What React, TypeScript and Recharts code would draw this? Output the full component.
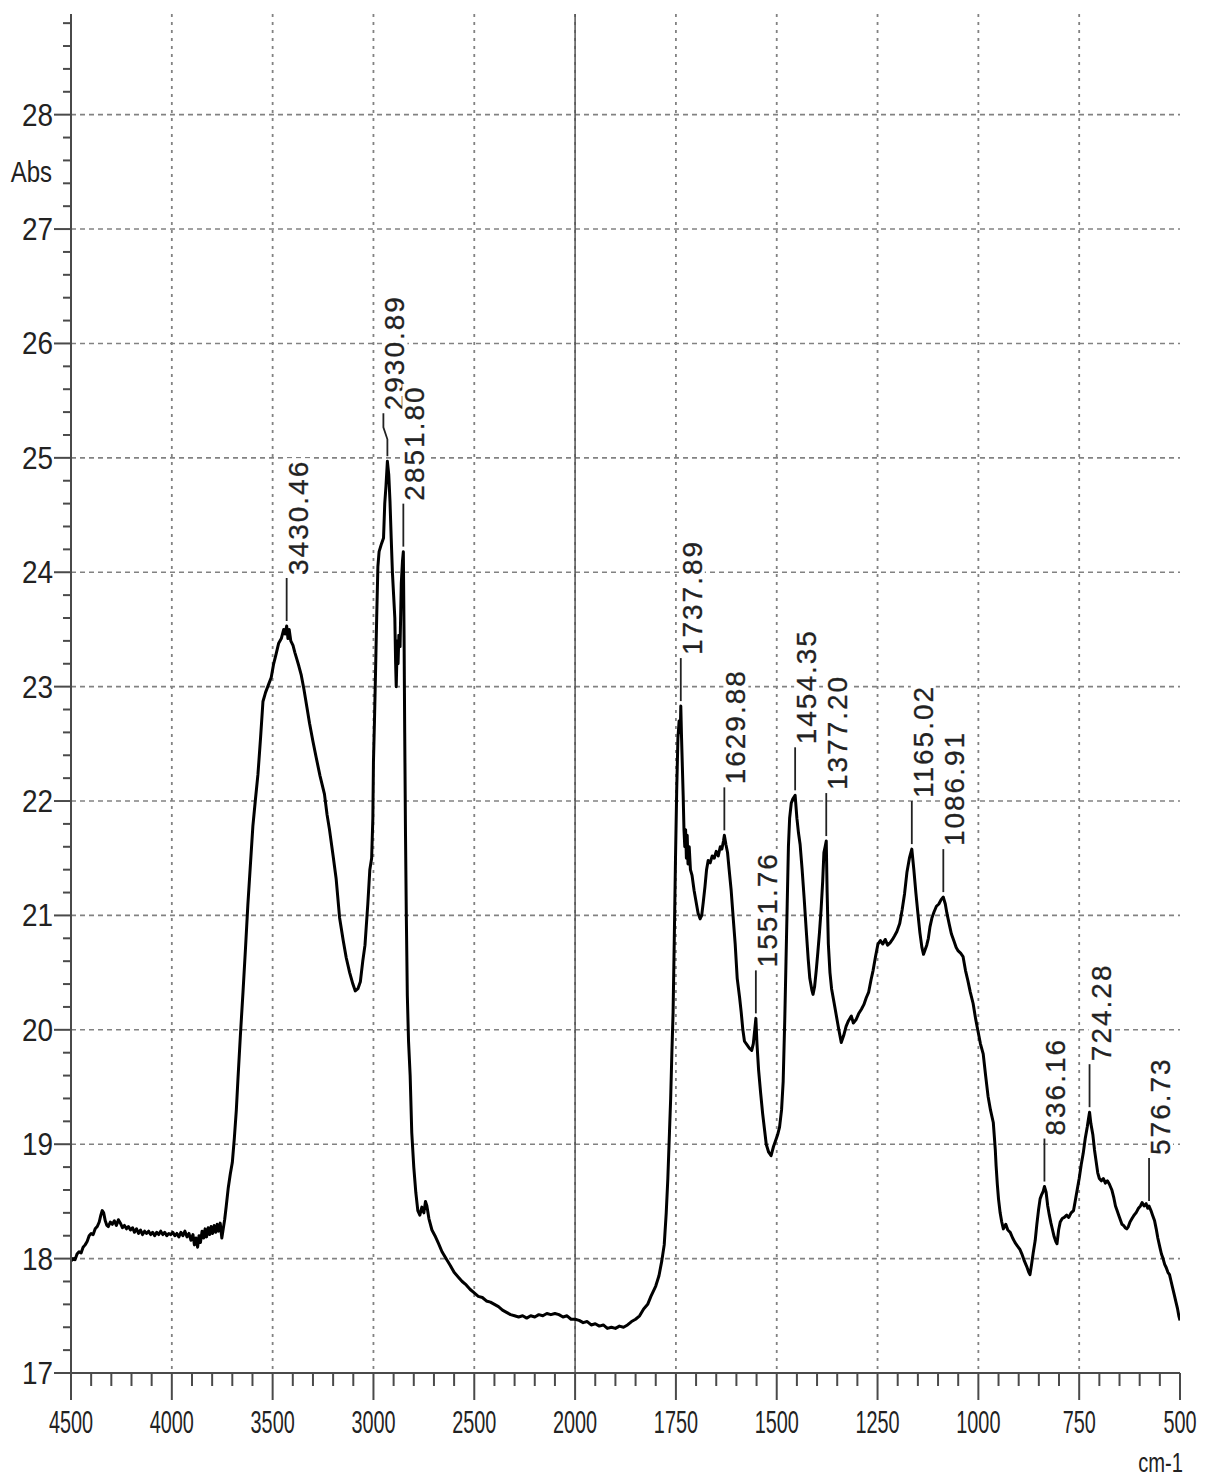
import React from 'react';
import { LineChart, Line, XAxis, YAxis, CartesianGrid, ReferenceLine, LabelList } from 'recharts';

const FONT = '"Liberation Sans", Arial, Helvetica, sans-serif';
const INK = '#222';
const FRAME = '#4a4a4a';
const GRID = '#828282';

// spectrum, [wavenumber cm-1, absorbance]
const baselineHigh: [number, number][] = [
  [4500, 17.98], [4490, 18.0], [4480, 17.99], [4470, 18.04], [4460, 18.06], [4450, 18.05],
  [4440, 18.1], [4430, 18.12], [4420, 18.15], [4410, 18.2], [4400, 18.22], [4390, 18.21],
  [4380, 18.26], [4370, 18.28], [4360, 18.32], [4352, 18.38], [4345, 18.42], [4338, 18.4],
  [4330, 18.33], [4322, 18.29], [4315, 18.28], [4305, 18.32], [4295, 18.3], [4285, 18.33],
  [4275, 18.29], [4265, 18.34], [4255, 18.31], [4245, 18.27], [4235, 18.29], [4225, 18.26],
  [4215, 18.28], [4205, 18.25], [4195, 18.27], [4185, 18.23], [4175, 18.26], [4165, 18.22],
  [4155, 18.25], [4145, 18.21], [4135, 18.24], [4125, 18.22], [4115, 18.24], [4105, 18.21],
  [4095, 18.23], [4085, 18.2], [4075, 18.23], [4065, 18.21], [4055, 18.24], [4045, 18.21],
  [4035, 18.23], [4025, 18.2], [4015, 18.22], [4005, 18.21], [3995, 18.23], [3985, 18.2],
  [3975, 18.22], [3965, 18.19], [3955, 18.23], [3945, 18.2], [3935, 18.24], [3925, 18.19],
  [3915, 18.22], [3905, 18.16], [3895, 18.21], [3888, 18.12], [3880, 18.18], [3872, 18.1],
  [3865, 18.2], [3858, 18.14], [3850, 18.24], [3842, 18.18], [3835, 18.26], [3828, 18.19],
  [3820, 18.27], [3812, 18.21], [3805, 18.28], [3798, 18.22], [3790, 18.29], [3782, 18.23],
  [3775, 18.3], [3768, 18.24], [3760, 18.31], [3752, 18.18], [3745, 18.26], [3738, 18.34],
];

const ohBand: [number, number][] = [
  [3730, 18.46], [3720, 18.62], [3710, 18.74], [3700, 18.84], [3690, 19.05], [3680, 19.3],
  [3672, 19.57], [3660, 19.95], [3647, 20.33], [3635, 20.7], [3623, 21.09], [3610, 21.45],
  [3598, 21.78], [3585, 22.02], [3573, 22.23], [3560, 22.55], [3548, 22.87], [3535, 22.95],
  [3520, 23.02], [3507, 23.08], [3495, 23.2], [3482, 23.29], [3470, 23.38], [3457, 23.42],
  [3445, 23.5], [3438, 23.46], [3430.46, 23.53], [3424, 23.42], [3418, 23.5], [3410, 23.4],
  [3399, 23.36], [3390, 23.3], [3380, 23.24], [3370, 23.18], [3358, 23.1], [3345, 22.98],
  [3330, 22.82], [3317, 22.68], [3300, 22.52], [3284, 22.38], [3265, 22.22], [3243, 22.06],
  [3230, 21.88], [3218, 21.75], [3200, 21.52], [3185, 21.32], [3175, 21.12], [3168, 20.98],
  [3150, 20.78], [3135, 20.63], [3118, 20.5], [3102, 20.4], [3090, 20.34], [3077, 20.36],
  [3065, 20.42], [3053, 20.6], [3042, 20.74],
];

const chStretch: [number, number][] = [
  [3028, 21.1], [3018, 21.4], [3009, 21.5], [3003, 21.85], [3000, 22.34], [2995, 22.7],
  [2990, 23.1], [2984, 23.6], [2978, 24.05], [2972, 24.18], [2960, 24.25], [2950, 24.3],
  [2944, 24.6], [2938, 24.75], [2930.89, 24.97], [2924, 24.85], [2918, 24.62], [2912, 24.3],
  [2906, 24.0], [2900, 23.8], [2894, 23.6], [2890, 23.2], [2887, 23.0], [2882, 23.4],
  [2878, 23.2], [2874, 23.45], [2868, 23.35], [2862, 23.9], [2856, 24.1], [2851.8, 24.18],
  [2848, 23.4], [2845, 22.6], [2841, 21.7], [2837, 21.0], [2832, 20.3], [2826, 19.9],
  [2818, 19.6], [2810, 19.1], [2800, 18.8], [2790, 18.58], [2780, 18.42], [2770, 18.38],
  [2760, 18.45], [2750, 18.4], [2742, 18.5], [2735, 18.46], [2725, 18.35], [2710, 18.25],
];

const valley: [number, number][] = [
  [2695, 18.2], [2677, 18.13], [2660, 18.06], [2640, 18.0], [2619, 17.94], [2600, 17.88],
  [2580, 17.84], [2560, 17.8], [2540, 17.77], [2520, 17.73], [2500, 17.7], [2480, 17.67],
  [2460, 17.66], [2440, 17.63], [2420, 17.62], [2400, 17.6], [2380, 17.58], [2360, 17.55],
  [2340, 17.53], [2320, 17.51], [2300, 17.5], [2280, 17.49], [2260, 17.5], [2240, 17.48],
  [2220, 17.5], [2200, 17.49], [2180, 17.51], [2160, 17.5], [2140, 17.52], [2120, 17.51],
  [2100, 17.52], [2080, 17.51], [2060, 17.49], [2040, 17.5], [2020, 17.47], [2000, 17.47],
  [1990, 17.46], [1980, 17.44], [1970, 17.45], [1960, 17.42], [1950, 17.43], [1940, 17.41],
  [1930, 17.42], [1920, 17.39], [1910, 17.4], [1900, 17.39], [1890, 17.41], [1880, 17.4],
  [1870, 17.42], [1860, 17.45], [1850, 17.47], [1840, 17.5], [1830, 17.56], [1820, 17.6],
  [1812, 17.67], [1800, 17.76], [1792, 17.85], [1785, 17.98],
];

const carbonylRegion: [number, number][] = [
  [1779, 18.12], [1774, 18.4], [1770, 18.7], [1766, 19.1], [1763, 19.4], [1760, 19.8],
  [1757, 20.15], [1754, 20.8], [1751, 21.5], [1748, 22.1], [1745, 22.55], [1742, 22.7],
  [1739, 22.6], [1737.89, 22.83], [1736, 22.55], [1734, 22.3], [1732, 22.05], [1730, 21.75],
  [1728, 21.6], [1726, 21.75], [1724, 21.5], [1722, 21.7], [1720, 21.45], [1717, 21.6],
  [1714, 21.4], [1710, 21.35], [1705, 21.22], [1700, 21.12], [1695, 21.02], [1690, 20.97],
  [1686, 21.0], [1682, 21.12], [1678, 21.25], [1674, 21.4], [1670, 21.48], [1665, 21.46],
  [1660, 21.52], [1655, 21.5], [1650, 21.56], [1645, 21.52], [1640, 21.6], [1636, 21.58],
  [1632, 21.65], [1629.88, 21.7], [1626, 21.62], [1622, 21.55], [1618, 21.4], [1613, 21.22],
  [1608, 20.98], [1603, 20.75], [1598, 20.45], [1592, 20.28], [1588, 20.15], [1584, 20.0],
  [1580, 19.9], [1574, 19.87], [1568, 19.84], [1562, 19.82], [1558, 19.88], [1554, 20.02],
  [1551.76, 20.1], [1549, 19.88], [1545, 19.65], [1540, 19.45], [1535, 19.27], [1530, 19.12],
  [1526, 19.0], [1520, 18.93], [1514, 18.9], [1508, 18.98], [1504, 19.02], [1498, 19.08],
  [1493, 19.15], [1488, 19.3], [1484, 19.55], [1480, 20.1], [1477, 20.6], [1474, 21.1],
  [1471, 21.6], [1468, 21.85], [1464, 21.98], [1460, 22.02], [1454.35, 22.05], [1450, 21.85],
  [1446, 21.72], [1442, 21.62], [1437, 21.4], [1432, 21.15], [1427, 20.88], [1422, 20.62],
  [1418, 20.45], [1413, 20.35], [1410, 20.31], [1406, 20.38], [1402, 20.52], [1398, 20.68],
  [1394, 20.85], [1390, 21.05], [1386, 21.3], [1383, 21.55], [1380, 21.6], [1377.2, 21.65],
  [1375, 21.2], [1372, 20.75], [1368, 20.5], [1364, 20.36], [1358, 20.24], [1353, 20.14],
  [1346, 20.0], [1340, 19.89], [1334, 19.95], [1328, 20.03], [1322, 20.08], [1315, 20.12],
  [1310, 20.06], [1303, 20.09], [1297, 20.14], [1290, 20.18], [1284, 20.22], [1278, 20.28],
  [1272, 20.33], [1266, 20.44], [1261, 20.52], [1255, 20.64], [1249, 20.75], [1243, 20.78],
  [1237, 20.75], [1231, 20.79], [1225, 20.74], [1219, 20.76], [1213, 20.79], [1208, 20.82],
  [1202, 20.86], [1195, 20.93], [1189, 21.05], [1183, 21.19], [1177, 21.38], [1171, 21.5],
  [1165.02, 21.58], [1160, 21.4], [1155, 21.2], [1150, 21.02], [1145, 20.85], [1140, 20.72],
  [1136, 20.66], [1132, 20.7], [1128, 20.74], [1124, 20.8], [1120, 20.9], [1115, 20.98],
  [1110, 21.03], [1104, 21.08], [1098, 21.1], [1092, 21.14], [1086.91, 21.16], [1082, 21.1],
  [1078, 21.02], [1072, 20.92], [1067, 20.84], [1061, 20.78], [1055, 20.72], [1050, 20.69],
  [1044, 20.67], [1038, 20.64], [1032, 20.52], [1026, 20.43], [1020, 20.33], [1013, 20.23],
  [1007, 20.1], [1001, 19.99],
];

const fingerprint: [number, number][] = [
  [995, 19.88], [988, 19.79], [982, 19.6], [976, 19.42], [970, 19.3], [963, 19.19],
  [958, 18.95], [956, 18.81], [953, 18.65], [950, 18.52], [946, 18.4], [942, 18.32],
  [938, 18.26], [932, 18.3], [927, 18.25], [921, 18.23], [915, 18.18], [909, 18.14],
  [903, 18.11], [897, 18.08], [892, 18.04], [886, 17.98], [880, 17.93], [875, 17.88],
  [872, 17.86], [868, 17.95], [864, 18.05], [859, 18.16], [855, 18.3], [851, 18.42],
  [847, 18.52], [843, 18.56], [839, 18.59], [836.16, 18.63], [832, 18.58], [828, 18.46],
  [824, 18.38], [820, 18.31], [816, 18.25], [812, 18.19], [808, 18.15], [805, 18.13],
  [801, 18.25], [797, 18.32], [792, 18.35], [787, 18.36], [781, 18.38], [776, 18.36],
  [770, 18.4], [764, 18.42], [760, 18.5], [756, 18.58], [750, 18.7], [745, 18.82],
  [740, 18.92], [735, 19.05], [730, 19.15], [727, 19.22], [724.28, 19.28], [721, 19.18],
  [716, 19.08], [712, 18.95], [708, 18.85], [704, 18.75], [700, 18.7], [695, 18.68],
  [690, 18.7], [685, 18.66], [680, 18.68], [675, 18.65], [669, 18.6], [664, 18.53],
  [660, 18.46], [656, 18.42], [652, 18.38], [648, 18.34], [644, 18.3], [640, 18.29],
  [636, 18.27], [632, 18.26], [628, 18.28], [624, 18.32], [619, 18.35], [614, 18.38],
  [609, 18.4], [603, 18.44], [598, 18.46], [594, 18.49], [589, 18.46], [584, 18.48],
  [580, 18.44], [576.73, 18.46], [572, 18.42], [568, 18.38], [563, 18.33], [559, 18.26],
  [555, 18.18], [550, 18.1], [546, 18.04], [542, 18.0], [538, 17.95], [534, 17.92],
  [530, 17.88], [526, 17.86], [522, 17.8], [518, 17.74], [514, 17.68], [510, 17.62],
  [506, 17.56], [503, 17.5], [500, 17.46],
];

const peakWavenumbers = [
  3430.46, 2930.89, 2851.8, 1737.89, 1629.88, 1551.76, 1454.35, 1377.2, 1165.02, 1086.91,
  836.16, 724.28, 576.73,
];

const xTickLabels = [4500, 4000, 3500, 3000, 2500, 2000, 1750, 1500, 1250, 1000, 750, 500];
const yTickLabels = [17, 18, 19, 20, 21, 22, 23, 24, 25, 26, 27, 28];

// x axis is split: 4500-2000 at half the scale of 2000-500
const toAxis = (wn: number) => (wn >= 2000 ? 4500 - wn : 2500 + (2000 - wn) * 2);
const fromAxis = (u: number) => (u <= 2500 ? 4500 - u : 2000 - (u - 2500) / 2);

// little leader kinks where labels would collide
const leaderJog: Record<string, number> = { '2930.89': -4 };

const spectrum = [...baselineHigh, ...ohBand, ...chStretch, ...valley, ...carbonylRegion, ...fingerprint];
const data = spectrum.map(([wn, abs]) => ({
  u: toAxis(wn),
  abs,
  tag: peakWavenumbers.includes(wn) ? wn.toFixed(2) : undefined,
}));

const xMajor = xTickLabels.map(toAxis);
const xTicks: number[] = [];
for (let u = 0; u <= 5500; u += 100) xTicks.push(u);
const yTicks: number[] = [];
for (let i = 0; i <= 59; i++) yTicks.push(Math.round((17 + i * 0.2) * 10) / 10);

const XTick = (props: any) => {
  const { x, y, payload } = props;
  const major = xMajor.includes(payload.value);
  return (
    <g>
      <line x1={x} x2={x} y1={y} y2={y + (major ? 27 : 13)} stroke={FRAME} strokeWidth={2} />
      {major && (
        <text
          transform={`translate(${x},${y + 60}) scale(0.62,1)`}
          textAnchor="middle"
          fontSize={32}
          fontFamily={FONT}
          fill={INK}
        >
          {fromAxis(payload.value)}
        </text>
      )}
    </g>
  );
};

const YTick = (props: any) => {
  const { x, y, payload } = props;
  const major = Number.isInteger(payload.value);
  return (
    <g>
      <line x1={x - (major ? 17 : 8)} x2={x} y1={y} y2={y} stroke={FRAME} strokeWidth={2} />
      {major && (
        <text
          transform={`translate(${x - 18},${y + 11}) scale(0.9,1)`}
          textAnchor="end"
          fontSize={31}
          fontFamily={FONT}
          fill={INK}
        >
          {payload.value}
        </text>
      )}
    </g>
  );
};

const PeakLabel = (props: any) => {
  const { value } = props;
  if (!value) return null;
  const vb = props.viewBox ?? {};
  const x = vb.x ?? props.x;
  const y = vb.y ?? props.y;
  const jog = leaderJog[value] ?? 0;
  const text = String(value);
  const len = text.length * 16.4;
  const tx = x + jog + 21;
  const ty = y - 51;
  const points = jog
    ? `${x},${y - 5} ${x},${y - 22} ${x + jog},${y - 34} ${x + jog},${y - 48}`
    : `${x},${y - 5} ${x},${y - 48}`;
  return (
    <g>
      <polyline points={points} fill="none" stroke={INK} strokeWidth={1.8} />
      <rect x={tx - 22} y={ty - len - 2} width={25} height={len + 4} fill="#fff" />
      <text
        x={tx}
        y={ty}
        transform={`rotate(-90 ${tx} ${ty})`}
        fontSize={28}
        letterSpacing={2}
        fontFamily={FONT}
        fill={INK}
        stroke={INK}
        strokeWidth={0.3}
      >
        {text}
      </text>
    </g>
  );
};

export default function App() {
  return (
    <div style={{ position: 'absolute', left: 0, top: 0, width: 1209, height: 1477, background: '#fff' }}>
      <LineChart width={1209} height={1477} data={data} margin={{ top: 14, right: 29, bottom: 0, left: 0 }}>
        <CartesianGrid
          vertical={false}
          horizontalValues={yTickLabels}
          stroke={GRID}
          strokeWidth={1.6}
          strokeDasharray="5 4"
        />
        <CartesianGrid
          horizontal={false}
          verticalValues={xMajor.slice(1, -1)}
          stroke={GRID}
          strokeWidth={1.8}
          strokeDasharray="3 5"
        />
        <XAxis
          dataKey="u"
          type="number"
          domain={[0, 5500]}
          ticks={xTicks}
          interval={0}
          height={104}
          tickSize={0}
          tickMargin={0}
          tickLine={false}
          axisLine={{ stroke: FRAME, strokeWidth: 2 }}
          tick={XTick}
          allowDataOverflow
          label={(p: any) => {
            const vb = p.viewBox ?? {};
            const tx = vb.x + vb.width + 3;
            const ty = vb.y + 99;
            return (
              <text transform={`translate(${tx},${ty}) scale(0.72,1)`} textAnchor="end" fontSize={28} fontFamily={FONT} fill={INK}>
                cm-1
              </text>
            );
          }}
        />
        <XAxis
          xAxisId="top"
          orientation="top"
          dataKey="u"
          type="number"
          domain={[0, 5500]}
          height={0}
          tick={false}
          tickLine={false}
          axisLine={{ stroke: FRAME, strokeWidth: 2 }}
        />
        <YAxis
          type="number"
          domain={[17, 28.88]}
          ticks={yTicks}
          interval={0}
          width={71}
          tickSize={0}
          tickMargin={0}
          tickLine={false}
          axisLine={{ stroke: FRAME, strokeWidth: 2 }}
          tick={YTick}
          allowDataOverflow
          label={(p: any) => {
            const vb = p.viewBox ?? {};
            const tx = vb.x + 52;
            const ty = vb.y + 168;
            return (
              <text transform={`translate(${tx},${ty}) scale(0.8,1)`} textAnchor="end" fontSize={30} fontFamily={FONT} fill={INK}>
                Abs
              </text>
            );
          }}
        />
        <YAxis
          yAxisId="right"
          orientation="right"
          type="number"
          domain={[17, 28.88]}
          width={0}
          tick={false}
          tickLine={false}
          axisLine={{ stroke: FRAME, strokeWidth: 2 }}
        />
        <ReferenceLine x={toAxis(2000)} stroke="#555" strokeWidth={1.5} />
        <Line
          dataKey="abs"
          type="linear"
          stroke="#000"
          strokeWidth={3}
          strokeLinejoin="round"
          dot={false}
          activeDot={false}
          isAnimationActive={false}
        >
          <LabelList dataKey="tag" content={PeakLabel} />
        </Line>
      </LineChart>
    </div>
  );
}
